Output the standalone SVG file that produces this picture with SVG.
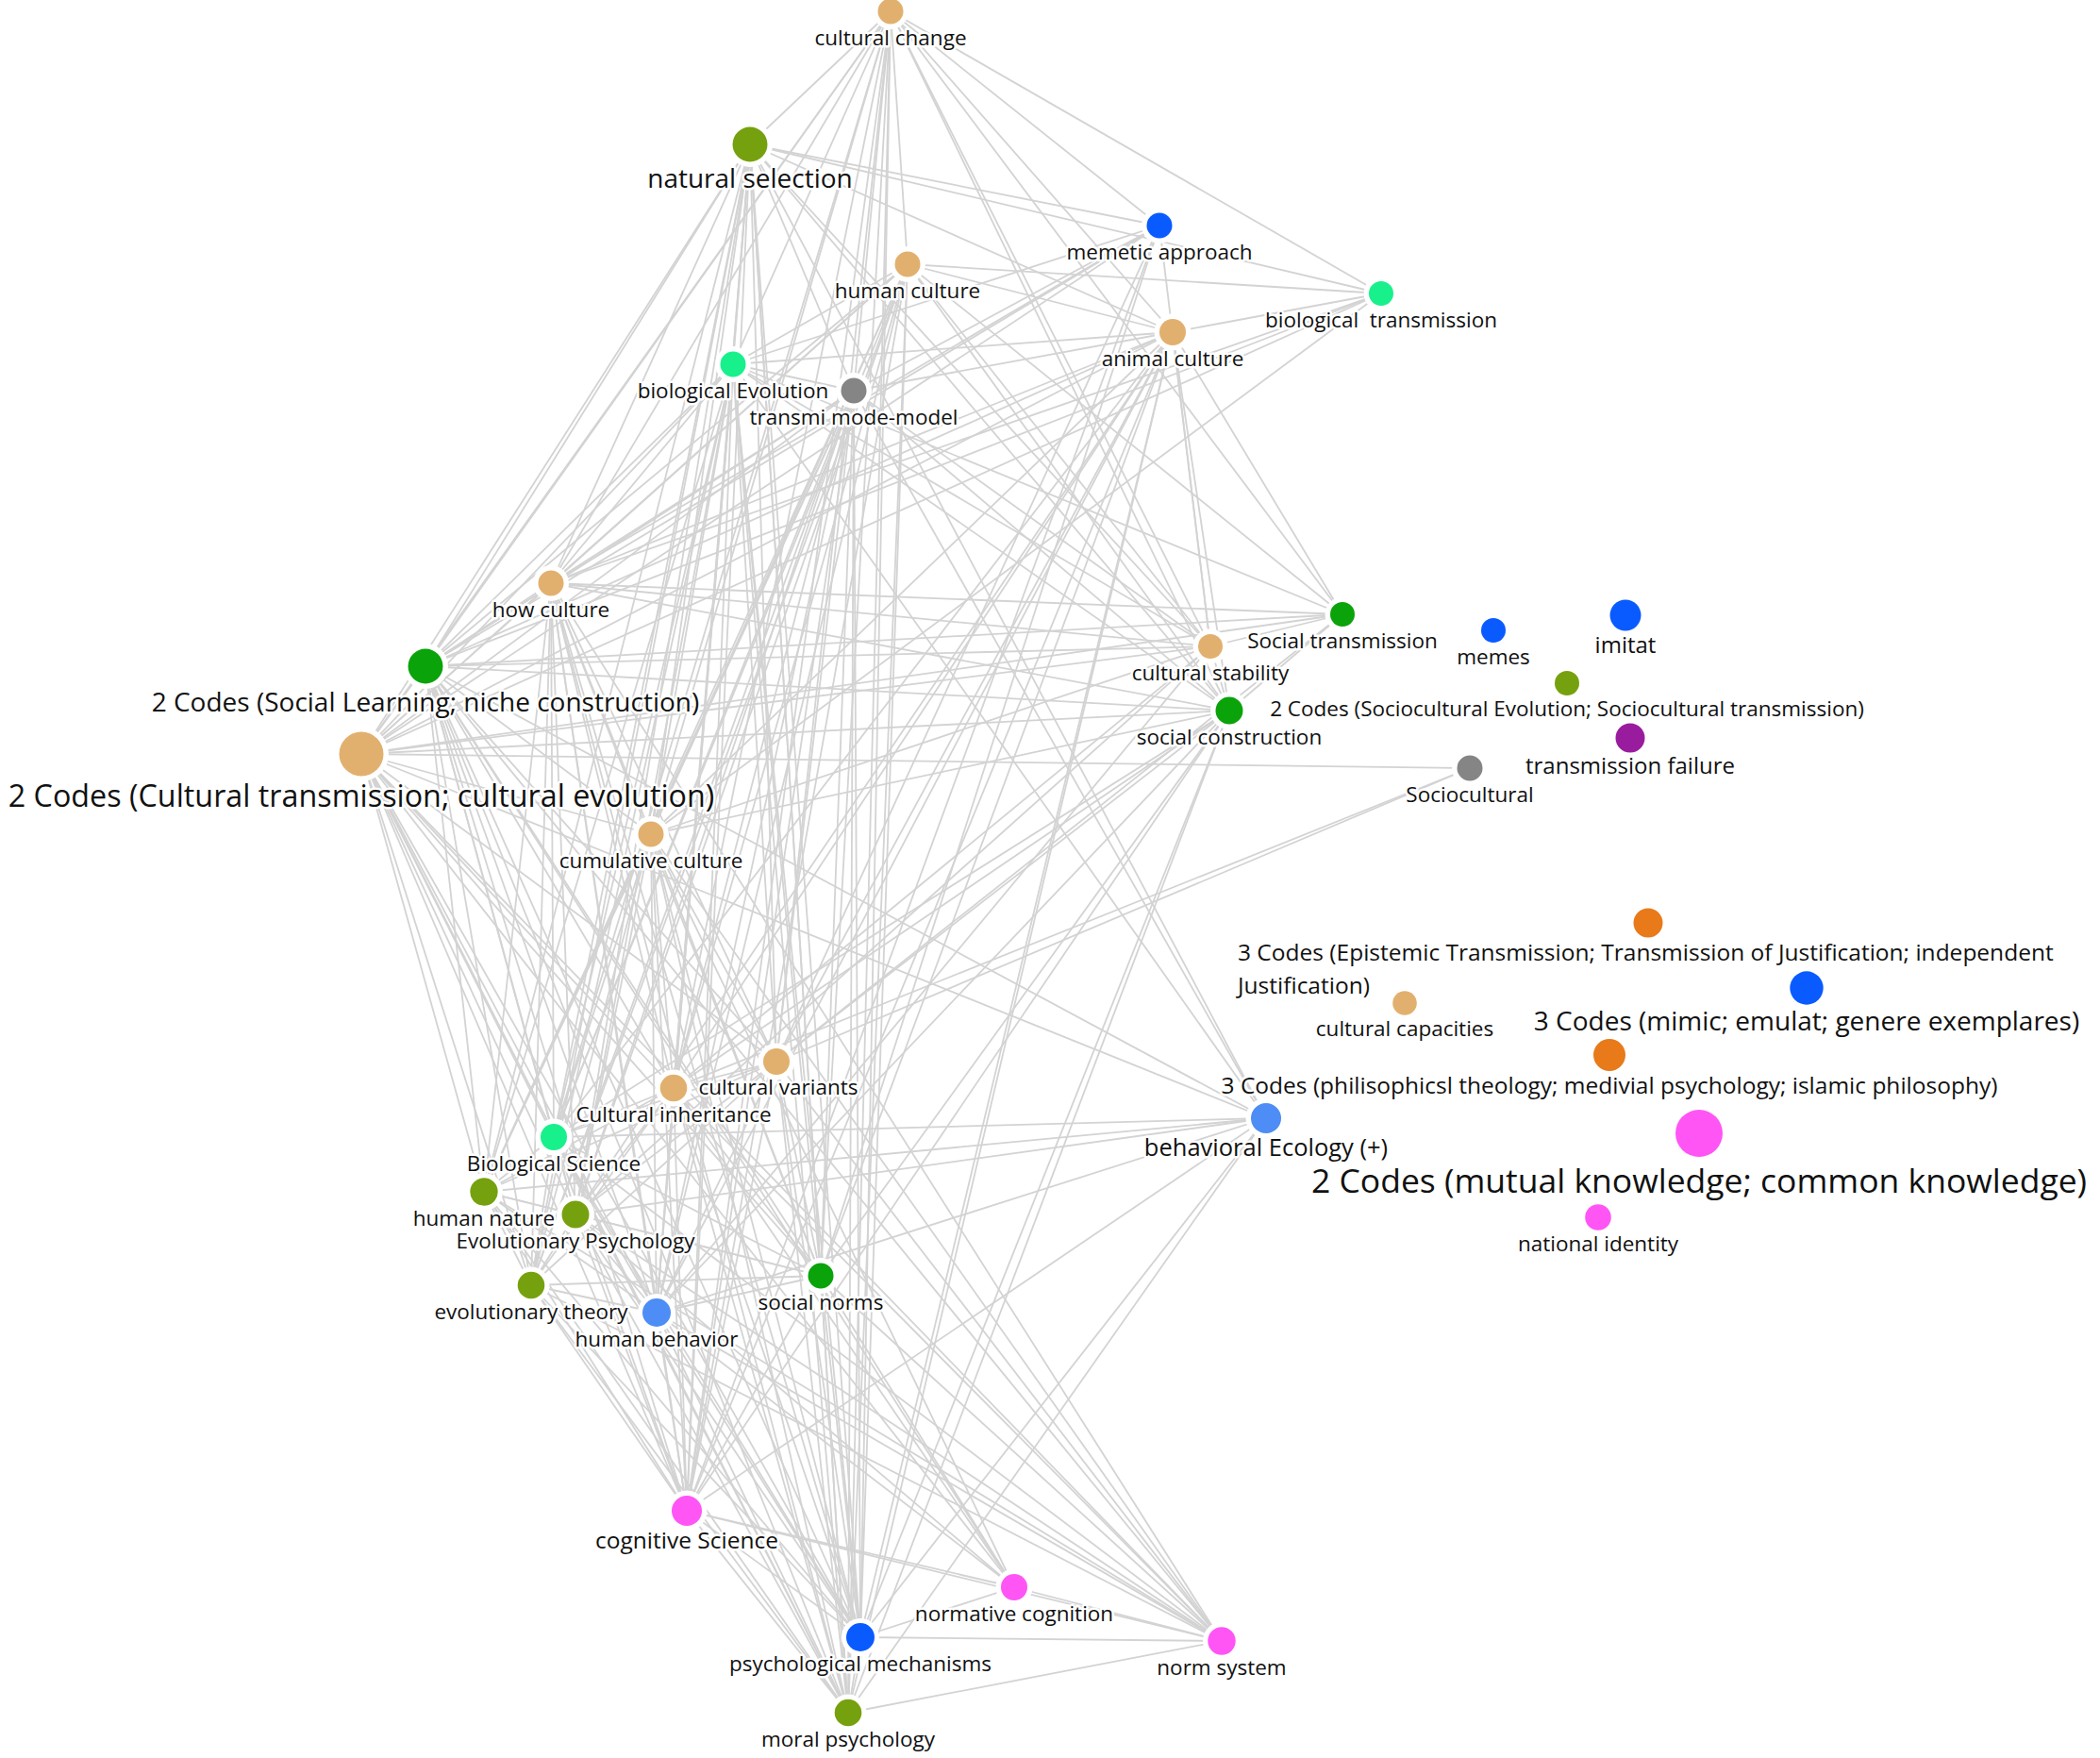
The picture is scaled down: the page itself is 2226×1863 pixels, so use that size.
<svg xmlns="http://www.w3.org/2000/svg" width="2226" height="1863" viewBox="0 0 2226 1863">
<style>
.edges line{stroke:#d3d3d3;stroke-width:1.8;fill:none}
text{font-family:"Open Sans","Noto Sans","Liberation Sans",sans-serif;font-size:22.5px;fill:#111;text-anchor:middle;stroke:#fff;stroke-width:5px;stroke-linejoin:round;paint-order:stroke}
.h{fill:#fff}
.tan{fill:#E2B06E}.olive{fill:#76A10F}.blue{fill:#0A5BFF}.spring{fill:#18F08C}.gray{fill:#858585}
.green{fill:#0AA30A}.purple{fill:#9A1C9E}.orange{fill:#E87A1A}.magenta{fill:#FF55F5}.lblue{fill:#4D8DF5}
</style>
<rect width="2226" height="1863" fill="#fff"/>
<g id="connectors" class="edges">
<line x1="944" y1="12" x2="795" y2="153"/><line x1="944" y1="12" x2="1229" y2="239"/><line x1="944" y1="12" x2="962" y2="280"/><line x1="944" y1="12" x2="1464" y2="311"/><line x1="944" y1="12" x2="1243" y2="352"/><line x1="944" y1="12" x2="777" y2="386"/><line x1="944" y1="12" x2="905" y2="414"/><line x1="944" y1="12" x2="584" y2="618"/><line x1="944" y1="12" x2="1423" y2="651"/><line x1="944" y1="12" x2="1283" y2="685"/><line x1="944" y1="12" x2="451" y2="706"/><line x1="944" y1="12" x2="1303" y2="753"/><line x1="944" y1="12" x2="383" y2="799"/><line x1="944" y1="12" x2="690" y2="884"/><line x1="944" y1="12" x2="823" y2="1125"/><line x1="944" y1="12" x2="714" y2="1153"/><line x1="944" y1="12" x2="587" y2="1205"/><line x1="944" y1="12" x2="870" y2="1352"/><line x1="944" y1="12" x2="728" y2="1601"/><line x1="944" y1="12" x2="912" y2="1735"/><line x1="944" y1="12" x2="899" y2="1815"/>
<line x1="795" y1="153" x2="1229" y2="239"/><line x1="795" y1="153" x2="1464" y2="311"/><line x1="795" y1="153" x2="1243" y2="352"/><line x1="795" y1="153" x2="777" y2="386"/><line x1="795" y1="153" x2="905" y2="414"/><line x1="795" y1="153" x2="584" y2="618"/><line x1="795" y1="153" x2="1283" y2="685"/><line x1="795" y1="153" x2="451" y2="706"/><line x1="795" y1="153" x2="1303" y2="753"/><line x1="795" y1="153" x2="383" y2="799"/><line x1="795" y1="153" x2="690" y2="884"/><line x1="795" y1="153" x2="823" y2="1125"/><line x1="795" y1="153" x2="714" y2="1153"/><line x1="795" y1="153" x2="587" y2="1205"/><line x1="795" y1="153" x2="513" y2="1263"/><line x1="795" y1="153" x2="610" y2="1287"/><line x1="795" y1="153" x2="563" y2="1362"/><line x1="795" y1="153" x2="696" y2="1391"/><line x1="795" y1="153" x2="870" y2="1352"/><line x1="795" y1="153" x2="1342" y2="1185"/><line x1="795" y1="153" x2="728" y2="1601"/><line x1="795" y1="153" x2="912" y2="1735"/><line x1="795" y1="153" x2="899" y2="1815"/>
<line x1="1229" y1="239" x2="777" y2="386"/><line x1="1229" y1="239" x2="905" y2="414"/><line x1="1229" y1="239" x2="584" y2="618"/><line x1="1229" y1="239" x2="1283" y2="685"/><line x1="1229" y1="239" x2="451" y2="706"/><line x1="1229" y1="239" x2="383" y2="799"/><line x1="1229" y1="239" x2="823" y2="1125"/><line x1="1229" y1="239" x2="870" y2="1352"/><line x1="1229" y1="239" x2="728" y2="1601"/>
<line x1="962" y1="280" x2="1464" y2="311"/><line x1="962" y1="280" x2="1243" y2="352"/><line x1="962" y1="280" x2="777" y2="386"/><line x1="962" y1="280" x2="584" y2="618"/><line x1="962" y1="280" x2="1423" y2="651"/><line x1="962" y1="280" x2="1283" y2="685"/><line x1="962" y1="280" x2="451" y2="706"/><line x1="962" y1="280" x2="1303" y2="753"/><line x1="962" y1="280" x2="383" y2="799"/><line x1="962" y1="280" x2="690" y2="884"/><line x1="962" y1="280" x2="714" y2="1153"/><line x1="962" y1="280" x2="587" y2="1205"/><line x1="962" y1="280" x2="513" y2="1263"/><line x1="962" y1="280" x2="610" y2="1287"/><line x1="962" y1="280" x2="563" y2="1362"/><line x1="962" y1="280" x2="696" y2="1391"/><line x1="962" y1="280" x2="728" y2="1601"/><line x1="962" y1="280" x2="912" y2="1735"/><line x1="962" y1="280" x2="899" y2="1815"/>
<line x1="1464" y1="311" x2="1243" y2="352"/><line x1="1464" y1="311" x2="584" y2="618"/><line x1="1464" y1="311" x2="451" y2="706"/><line x1="1464" y1="311" x2="383" y2="799"/><line x1="1464" y1="311" x2="690" y2="884"/>
<line x1="1243" y1="352" x2="777" y2="386"/><line x1="1243" y1="352" x2="905" y2="414"/><line x1="1243" y1="352" x2="584" y2="618"/><line x1="1243" y1="352" x2="1423" y2="651"/><line x1="1243" y1="352" x2="1283" y2="685"/><line x1="1243" y1="352" x2="451" y2="706"/><line x1="1243" y1="352" x2="1303" y2="753"/><line x1="1243" y1="352" x2="383" y2="799"/><line x1="1243" y1="352" x2="690" y2="884"/><line x1="1243" y1="352" x2="823" y2="1125"/><line x1="1243" y1="352" x2="714" y2="1153"/><line x1="1243" y1="352" x2="587" y2="1205"/><line x1="1243" y1="352" x2="610" y2="1287"/><line x1="1243" y1="352" x2="696" y2="1391"/><line x1="1243" y1="352" x2="870" y2="1352"/><line x1="1243" y1="352" x2="728" y2="1601"/><line x1="1243" y1="352" x2="912" y2="1735"/><line x1="1243" y1="352" x2="899" y2="1815"/>
<line x1="777" y1="386" x2="905" y2="414"/><line x1="777" y1="386" x2="584" y2="618"/><line x1="777" y1="386" x2="1423" y2="651"/><line x1="777" y1="386" x2="1283" y2="685"/><line x1="777" y1="386" x2="451" y2="706"/><line x1="777" y1="386" x2="1303" y2="753"/><line x1="777" y1="386" x2="383" y2="799"/><line x1="777" y1="386" x2="690" y2="884"/><line x1="777" y1="386" x2="823" y2="1125"/><line x1="777" y1="386" x2="714" y2="1153"/><line x1="777" y1="386" x2="587" y2="1205"/><line x1="777" y1="386" x2="513" y2="1263"/><line x1="777" y1="386" x2="610" y2="1287"/><line x1="777" y1="386" x2="563" y2="1362"/><line x1="777" y1="386" x2="696" y2="1391"/><line x1="777" y1="386" x2="870" y2="1352"/><line x1="777" y1="386" x2="1342" y2="1185"/><line x1="777" y1="386" x2="728" y2="1601"/><line x1="777" y1="386" x2="912" y2="1735"/><line x1="777" y1="386" x2="899" y2="1815"/>
<line x1="905" y1="414" x2="584" y2="618"/><line x1="905" y1="414" x2="1283" y2="685"/><line x1="905" y1="414" x2="451" y2="706"/><line x1="905" y1="414" x2="1303" y2="753"/><line x1="905" y1="414" x2="383" y2="799"/><line x1="905" y1="414" x2="690" y2="884"/><line x1="905" y1="414" x2="823" y2="1125"/><line x1="905" y1="414" x2="714" y2="1153"/><line x1="905" y1="414" x2="587" y2="1205"/><line x1="905" y1="414" x2="513" y2="1263"/><line x1="905" y1="414" x2="610" y2="1287"/><line x1="905" y1="414" x2="563" y2="1362"/><line x1="905" y1="414" x2="696" y2="1391"/><line x1="905" y1="414" x2="870" y2="1352"/><line x1="905" y1="414" x2="1342" y2="1185"/><line x1="905" y1="414" x2="728" y2="1601"/><line x1="905" y1="414" x2="912" y2="1735"/><line x1="905" y1="414" x2="899" y2="1815"/>
<line x1="584" y1="618" x2="1423" y2="651"/><line x1="584" y1="618" x2="1283" y2="685"/><line x1="584" y1="618" x2="451" y2="706"/><line x1="584" y1="618" x2="1303" y2="753"/><line x1="584" y1="618" x2="383" y2="799"/><line x1="584" y1="618" x2="690" y2="884"/><line x1="584" y1="618" x2="823" y2="1125"/><line x1="584" y1="618" x2="714" y2="1153"/><line x1="584" y1="618" x2="587" y2="1205"/><line x1="584" y1="618" x2="513" y2="1263"/><line x1="584" y1="618" x2="610" y2="1287"/><line x1="584" y1="618" x2="563" y2="1362"/><line x1="584" y1="618" x2="696" y2="1391"/><line x1="584" y1="618" x2="870" y2="1352"/><line x1="584" y1="618" x2="728" y2="1601"/><line x1="584" y1="618" x2="912" y2="1735"/><line x1="584" y1="618" x2="1295" y2="1739"/><line x1="584" y1="618" x2="899" y2="1815"/>
<line x1="1423" y1="651" x2="1283" y2="685"/><line x1="1423" y1="651" x2="451" y2="706"/><line x1="1423" y1="651" x2="1303" y2="753"/><line x1="1423" y1="651" x2="383" y2="799"/><line x1="1423" y1="651" x2="823" y2="1125"/>
<line x1="1283" y1="685" x2="451" y2="706"/><line x1="1283" y1="685" x2="1303" y2="753"/><line x1="1283" y1="685" x2="383" y2="799"/><line x1="1283" y1="685" x2="690" y2="884"/><line x1="1283" y1="685" x2="714" y2="1153"/><line x1="1283" y1="685" x2="610" y2="1287"/><line x1="1283" y1="685" x2="696" y2="1391"/>
<line x1="451" y1="706" x2="1303" y2="753"/><line x1="451" y1="706" x2="383" y2="799"/><line x1="451" y1="706" x2="690" y2="884"/><line x1="451" y1="706" x2="823" y2="1125"/><line x1="451" y1="706" x2="714" y2="1153"/><line x1="451" y1="706" x2="587" y2="1205"/><line x1="451" y1="706" x2="513" y2="1263"/><line x1="451" y1="706" x2="610" y2="1287"/><line x1="451" y1="706" x2="563" y2="1362"/><line x1="451" y1="706" x2="696" y2="1391"/><line x1="451" y1="706" x2="870" y2="1352"/><line x1="451" y1="706" x2="1342" y2="1185"/><line x1="451" y1="706" x2="728" y2="1601"/><line x1="451" y1="706" x2="1075" y2="1682"/><line x1="451" y1="706" x2="912" y2="1735"/><line x1="451" y1="706" x2="1295" y2="1739"/><line x1="451" y1="706" x2="899" y2="1815"/>
<line x1="1303" y1="753" x2="383" y2="799"/><line x1="1303" y1="753" x2="690" y2="884"/><line x1="1303" y1="753" x2="823" y2="1125"/><line x1="1303" y1="753" x2="714" y2="1153"/><line x1="1303" y1="753" x2="587" y2="1205"/><line x1="1303" y1="753" x2="696" y2="1391"/><line x1="1303" y1="753" x2="870" y2="1352"/><line x1="1303" y1="753" x2="728" y2="1601"/><line x1="1303" y1="753" x2="912" y2="1735"/><line x1="1303" y1="753" x2="899" y2="1815"/>
<line x1="383" y1="799" x2="1558" y2="814"/><line x1="1558" y1="814" x2="823" y2="1125"/><line x1="1558" y1="814" x2="714" y2="1153"/>
<line x1="383" y1="799" x2="690" y2="884"/><line x1="383" y1="799" x2="823" y2="1125"/><line x1="383" y1="799" x2="714" y2="1153"/><line x1="383" y1="799" x2="587" y2="1205"/><line x1="383" y1="799" x2="513" y2="1263"/><line x1="383" y1="799" x2="610" y2="1287"/><line x1="383" y1="799" x2="563" y2="1362"/><line x1="383" y1="799" x2="696" y2="1391"/><line x1="383" y1="799" x2="870" y2="1352"/><line x1="383" y1="799" x2="1342" y2="1185"/><line x1="383" y1="799" x2="728" y2="1601"/><line x1="383" y1="799" x2="1075" y2="1682"/><line x1="383" y1="799" x2="912" y2="1735"/><line x1="383" y1="799" x2="1295" y2="1739"/><line x1="383" y1="799" x2="899" y2="1815"/>
<line x1="690" y1="884" x2="823" y2="1125"/><line x1="690" y1="884" x2="714" y2="1153"/><line x1="690" y1="884" x2="587" y2="1205"/><line x1="690" y1="884" x2="513" y2="1263"/><line x1="690" y1="884" x2="610" y2="1287"/><line x1="690" y1="884" x2="563" y2="1362"/><line x1="690" y1="884" x2="696" y2="1391"/><line x1="690" y1="884" x2="870" y2="1352"/><line x1="690" y1="884" x2="728" y2="1601"/><line x1="690" y1="884" x2="1075" y2="1682"/><line x1="690" y1="884" x2="912" y2="1735"/><line x1="690" y1="884" x2="1295" y2="1739"/><line x1="690" y1="884" x2="899" y2="1815"/>
<line x1="823" y1="1125" x2="714" y2="1153"/><line x1="823" y1="1125" x2="587" y2="1205"/><line x1="823" y1="1125" x2="513" y2="1263"/><line x1="823" y1="1125" x2="610" y2="1287"/><line x1="823" y1="1125" x2="563" y2="1362"/><line x1="823" y1="1125" x2="696" y2="1391"/><line x1="823" y1="1125" x2="870" y2="1352"/><line x1="823" y1="1125" x2="728" y2="1601"/><line x1="823" y1="1125" x2="912" y2="1735"/><line x1="823" y1="1125" x2="1295" y2="1739"/><line x1="823" y1="1125" x2="899" y2="1815"/>
<line x1="714" y1="1153" x2="587" y2="1205"/><line x1="714" y1="1153" x2="513" y2="1263"/><line x1="714" y1="1153" x2="610" y2="1287"/><line x1="714" y1="1153" x2="563" y2="1362"/><line x1="714" y1="1153" x2="696" y2="1391"/><line x1="714" y1="1153" x2="870" y2="1352"/><line x1="714" y1="1153" x2="728" y2="1601"/><line x1="714" y1="1153" x2="1075" y2="1682"/><line x1="714" y1="1153" x2="912" y2="1735"/><line x1="714" y1="1153" x2="1295" y2="1739"/><line x1="714" y1="1153" x2="899" y2="1815"/>
<line x1="587" y1="1205" x2="513" y2="1263"/><line x1="587" y1="1205" x2="610" y2="1287"/><line x1="587" y1="1205" x2="563" y2="1362"/><line x1="587" y1="1205" x2="696" y2="1391"/><line x1="587" y1="1205" x2="870" y2="1352"/><line x1="587" y1="1205" x2="1342" y2="1185"/><line x1="587" y1="1205" x2="728" y2="1601"/><line x1="587" y1="1205" x2="912" y2="1735"/><line x1="587" y1="1205" x2="1295" y2="1739"/><line x1="587" y1="1205" x2="899" y2="1815"/>
<line x1="513" y1="1263" x2="610" y2="1287"/><line x1="513" y1="1263" x2="563" y2="1362"/><line x1="513" y1="1263" x2="696" y2="1391"/><line x1="513" y1="1263" x2="870" y2="1352"/><line x1="513" y1="1263" x2="1342" y2="1185"/><line x1="513" y1="1263" x2="728" y2="1601"/><line x1="513" y1="1263" x2="912" y2="1735"/><line x1="513" y1="1263" x2="1295" y2="1739"/><line x1="513" y1="1263" x2="899" y2="1815"/>
<line x1="610" y1="1287" x2="563" y2="1362"/><line x1="610" y1="1287" x2="696" y2="1391"/><line x1="610" y1="1287" x2="870" y2="1352"/><line x1="610" y1="1287" x2="1342" y2="1185"/><line x1="610" y1="1287" x2="728" y2="1601"/><line x1="610" y1="1287" x2="1075" y2="1682"/><line x1="610" y1="1287" x2="912" y2="1735"/><line x1="610" y1="1287" x2="1295" y2="1739"/><line x1="610" y1="1287" x2="899" y2="1815"/>
<line x1="563" y1="1362" x2="696" y2="1391"/><line x1="563" y1="1362" x2="870" y2="1352"/><line x1="563" y1="1362" x2="728" y2="1601"/><line x1="563" y1="1362" x2="912" y2="1735"/><line x1="563" y1="1362" x2="1295" y2="1739"/><line x1="563" y1="1362" x2="899" y2="1815"/>
<line x1="696" y1="1391" x2="870" y2="1352"/><line x1="696" y1="1391" x2="1342" y2="1185"/><line x1="696" y1="1391" x2="728" y2="1601"/><line x1="696" y1="1391" x2="1075" y2="1682"/><line x1="696" y1="1391" x2="912" y2="1735"/><line x1="696" y1="1391" x2="1295" y2="1739"/><line x1="696" y1="1391" x2="899" y2="1815"/>
<line x1="870" y1="1352" x2="728" y2="1601"/><line x1="870" y1="1352" x2="1075" y2="1682"/><line x1="870" y1="1352" x2="912" y2="1735"/><line x1="870" y1="1352" x2="1295" y2="1739"/><line x1="870" y1="1352" x2="899" y2="1815"/>
<line x1="1342" y1="1185" x2="728" y2="1601"/><line x1="1342" y1="1185" x2="912" y2="1735"/><line x1="1342" y1="1185" x2="899" y2="1815"/>
<line x1="728" y1="1601" x2="1075" y2="1682"/><line x1="728" y1="1601" x2="912" y2="1735"/><line x1="728" y1="1601" x2="1295" y2="1739"/><line x1="728" y1="1601" x2="899" y2="1815"/>
<line x1="1075" y1="1682" x2="912" y2="1735"/><line x1="1075" y1="1682" x2="1295" y2="1739"/><line x1="912" y1="1735" x2="1295" y2="1739"/><line x1="912" y1="1735" x2="899" y2="1815"/><line x1="1295" y1="1739" x2="899" y2="1815"/>
</g>
<g id="nodes">
<g id="n-cultural-change"><circle cx="944" cy="12" r="19" class="h"/><circle cx="944" cy="12" r="13.5" class="tan"/><text x="944" y="48">cultural change</text></g>
<g id="n-natural-selection"><circle cx="795" cy="153" r="24" class="h"/><circle cx="795" cy="153" r="18.5" class="olive"/><text x="795" y="199" style="font-size:28px">natural selection</text></g>
<g id="n-memetic-approach"><circle cx="1229" cy="239" r="19" class="h"/><circle cx="1229" cy="239" r="13.5" class="blue"/><text x="1229" y="275">memetic approach</text></g>
<g id="n-human-culture"><circle cx="962" cy="280" r="19" class="h"/><circle cx="962" cy="280" r="13.5" class="tan"/><text x="962" y="316">human culture</text></g>
<g id="n-biological-transmission"><circle cx="1464" cy="311" r="18.5" class="h"/><circle cx="1464" cy="311" r="13" class="spring"/><text x="1464" y="347" xml:space="preserve">biological  transmission</text></g>
<g id="n-animal-culture"><circle cx="1243" cy="352" r="19.5" class="h"/><circle cx="1243" cy="352" r="14" class="tan"/><text x="1243" y="388">animal culture</text></g>
<g id="n-biological-evolution"><circle cx="777" cy="386" r="19" class="h"/><circle cx="777" cy="386" r="13.5" class="spring"/><text x="777" y="422">biological Evolution</text></g>
<g id="n-transmi-mode-model"><circle cx="905" cy="414" r="19" class="h"/><circle cx="905" cy="414" r="13.5" class="gray"/><text x="905" y="450">transmi mode-model</text></g>
<g id="n-how-culture"><circle cx="584" cy="618" r="19" class="h"/><circle cx="584" cy="618" r="13.5" class="tan"/><text x="584" y="654">how culture</text></g>
<g id="n-social-transmission"><circle cx="1423" cy="651" r="18.5" class="h"/><circle cx="1423" cy="651" r="13" class="green"/><text x="1423" y="687">Social transmission</text></g>
<g id="n-cultural-stability"><circle cx="1283" cy="685" r="18.5" class="h"/><circle cx="1283" cy="685" r="13" class="tan"/><text x="1283" y="721">cultural stability</text></g>
<g id="n-social-learning"><circle cx="451" cy="706" r="24" class="h"/><circle cx="451" cy="706" r="18.5" class="green"/><text x="451" y="754" style="font-size:28px">2 Codes (Social Learning; niche construction)</text></g>
<g id="n-social-construction"><circle cx="1303" cy="753" r="20" class="h"/><circle cx="1303" cy="753" r="14.5" class="green"/><text x="1303" y="789">social construction</text></g>
<g id="n-cultural-transmission"><circle cx="383" cy="799" r="29" class="h"/><circle cx="383" cy="799" r="23.5" class="tan"/><text x="383" y="855" style="font-size:32.3px">2 Codes (Cultural transmission; cultural evolution)</text></g>
<g id="n-sociocultural"><circle cx="1558" cy="814" r="19" class="h"/><circle cx="1558" cy="814" r="13.5" class="gray"/><text x="1558" y="850">Sociocultural</text></g>
<g id="n-cumulative-culture"><circle cx="690" cy="884" r="19" class="h"/><circle cx="690" cy="884" r="13.5" class="tan"/><text x="690" y="920">cumulative culture</text></g>
<g id="n-memes"><circle cx="1583" cy="668" r="13" class="blue"/><text x="1583" y="704">memes</text></g>
<g id="n-imitat"><circle cx="1723" cy="652" r="16.5" class="blue"/><text x="1723" y="692" style="font-size:24px">imitat</text></g>
<g id="n-sociocultural-evolution"><circle cx="1661" cy="724" r="13" class="olive"/><text x="1661" y="759">2 Codes (Sociocultural Evolution; Sociocultural transmission)</text></g>
<g id="n-transmission-failure"><circle cx="1728" cy="782" r="15.5" class="purple"/><text x="1728" y="820" style="font-size:24px">transmission failure</text></g>
<g id="n-epistemic"><circle cx="1747" cy="978" r="15.5" class="orange"/><text x="1312" y="1018" style="font-size:24.5px;text-anchor:start">3 Codes (Epistemic Transmission; Transmission of Justification; independent</text><text x="1312" y="1053" style="font-size:24.5px;text-anchor:start">Justification)</text></g>
<g id="n-cultural-capacities"><circle cx="1489" cy="1063" r="12.8" class="tan"/><text x="1489" y="1098">cultural capacities</text></g>
<g id="n-mimic"><circle cx="1915" cy="1047" r="17.7" class="blue"/><text x="1915" y="1092" style="font-size:28px">3 Codes (mimic; emulat; genere exemplares)</text></g>
<g id="n-philosophy"><circle cx="1706" cy="1118" r="17" class="orange"/><text x="1706" y="1159" style="font-size:24.5px">3 Codes (philisophicsl theology; medivial psychology; islamic philosophy)</text></g>
<g id="n-behavioral-ecology"><circle cx="1342" cy="1185" r="21.5" class="h"/><circle cx="1342" cy="1185" r="16" class="lblue"/><text x="1342" y="1225" style="font-size:25.5px">behavioral Ecology (+)</text></g>
<g id="n-mutual-knowledge"><circle cx="1801" cy="1201" r="25" class="magenta"/><text x="1801" y="1264" style="font-size:35.5px">2 Codes (mutual knowledge; common knowledge)</text></g>
<g id="n-national-identity"><circle cx="1694" cy="1290" r="13.8" class="magenta"/><text x="1694" y="1326">national identity</text></g>
<g id="n-cultural-variants"><circle cx="823" cy="1125" r="19.5" class="h"/><circle cx="823" cy="1125" r="14" class="tan"/><text x="825" y="1160">cultural variants</text></g>
<g id="n-cultural-inheritance"><circle cx="714" cy="1153" r="19.5" class="h"/><circle cx="714" cy="1153" r="14.3" class="tan"/><text x="714" y="1189">Cultural inheritance</text></g>
<g id="n-biological-science"><circle cx="587" cy="1205" r="19.5" class="h"/><circle cx="587" cy="1205" r="14" class="spring"/><text x="587" y="1241">Biological Science</text></g>
<g id="n-human-nature"><circle cx="513" cy="1263" r="20" class="h"/><circle cx="513" cy="1263" r="14.7" class="olive"/><text x="513" y="1299">human nature</text></g>
<g id="n-evolutionary-psychology"><circle cx="610" cy="1287" r="20" class="h"/><circle cx="610" cy="1287" r="14.5" class="olive"/><text x="610" y="1323">Evolutionary Psychology</text></g>
<g id="n-evolutionary-theory"><circle cx="563" cy="1362" r="19.5" class="h"/><circle cx="563" cy="1362" r="14.3" class="olive"/><text x="563" y="1398">evolutionary theory</text></g>
<g id="n-human-behavior"><circle cx="696" cy="1391" r="20" class="h"/><circle cx="696" cy="1391" r="15" class="lblue"/><text x="696" y="1427">human behavior</text></g>
<g id="n-social-norms"><circle cx="870" cy="1352" r="19" class="h"/><circle cx="870" cy="1352" r="13.5" class="green"/><text x="870" y="1388">social norms</text></g>
<g id="n-cognitive-science"><circle cx="728" cy="1601" r="21.5" class="h"/><circle cx="728" cy="1601" r="16" class="magenta"/><text x="728" y="1641" style="font-size:24.5px">cognitive Science</text></g>
<g id="n-normative-cognition"><circle cx="1075" cy="1682" r="19.5" class="h"/><circle cx="1075" cy="1682" r="14" class="magenta"/><text x="1075" y="1718">normative cognition</text></g>
<g id="n-psychological-mechanisms"><circle cx="912" cy="1735" r="20" class="h"/><circle cx="912" cy="1735" r="15" class="blue"/><text x="912" y="1771">psychological mechanisms</text></g>
<g id="n-norm-system"><circle cx="1295" cy="1739" r="20" class="h"/><circle cx="1295" cy="1739" r="14.7" class="magenta"/><text x="1295" y="1775">norm system</text></g>
<g id="n-moral-psychology"><circle cx="899" cy="1815" r="19.5" class="h"/><circle cx="899" cy="1815" r="14.3" class="olive"/><text x="899" y="1851">moral psychology</text></g>
</g>
</svg>
